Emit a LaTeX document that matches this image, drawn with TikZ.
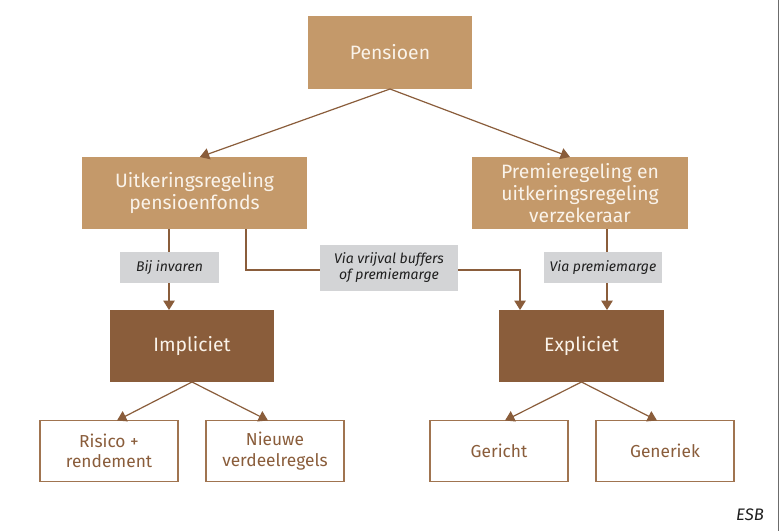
\documentclass[tikz,border=0pt]{standalone}
\usepackage{fontspec}
\setmainfont{Fira Sans}
\usetikzlibrary{arrows.meta,calc}
\definecolor{tan}{HTML}{C4996A}
\definecolor{brownd}{HTML}{8A5D3B}
\definecolor{lgray}{HTML}{D3D4D6}
\definecolor{boxtxt}{HTML}{FAF3EA}
\definecolor{edgeb}{HTML}{A07450}
\tikzset{
  base/.style={inner sep=0pt, outer sep=0pt, align=center, font=\fontsize{14.5}{16.5}\selectfont},
  tanbox/.style={base, fill=tan, text=boxtxt},
  darkbox/.style={base, fill=brownd, text=boxtxt, minimum width=123pt, minimum height=54pt},
  leafbox/.style={base, draw=edgeb, line width=0.9pt, fill=white, text=brownd, minimum width=103.5pt, minimum height=45.75pt, font=\fontsize{13}{15.5}\selectfont},
  lbl/.style={inner sep=0pt, outer sep=0pt, align=center, fill=lgray, text=black!88, font=\fontsize{10.5}{12}\selectfont\itshape, minimum height=23.25pt},
  arr/.style={draw=brownd, line width=0.9pt, -{Triangle[width=8.5pt,length=7pt]}},
}
\begin{document}
\begin{tikzpicture}[x=0.75pt,y=-0.75pt]
\useasboundingbox (0,0) rectangle (780,531);
\fill[white] (0,0) rectangle (780,531);
\draw[gray!85!black, line width=1.1pt] (778.5,0) -- (778.5,531);

\node[tanbox, minimum width=123pt, minimum height=54.75pt] (P) at (390,52.5) {Pensioen};
\node[tanbox, minimum width=168.75pt, minimum height=54pt] (U) at (194.5,193) {Uitkeringsregeling\\pensioenfonds};
\node[tanbox, minimum width=162pt, minimum height=54pt] (R) at (580,193) {Premieregeling en\\uitkeringsregeling\\verzekeraar};
\node[darkbox] (I) at (192,346) {Impliciet};
\node[darkbox, minimum width=123.75pt] (E) at (581.5,346) {Expliciet};

\node[leafbox] (L1) at (109,451) {Risico +\\rendement};
\node[leafbox] (L2) at (275,451) {Nieuwe\\verdeelregels};
\node[leafbox] (L3) at (499,451) {Gericht};
\node[leafbox] (L4) at (665,451) {Generiek};

% connectors
\draw[arr] (P.south) -- ([xshift=4pt]U.north);
\draw[arr] (P.south) -- ([xshift=-7.5pt]R.north);

\coordinate (a) at ([xshift=-19.1pt]U.south);
\coordinate (b) at ([xshift=38.6pt]U.south);
\coordinate (c) at ([xshift=-46.1pt]E.north);
\coordinate (d) at ([xshift=20.25pt]R.south);

\draw[arr] (a) -- (a |- I.north);
\draw[arr] (b) |- ($(c)+(0,-40)$) -- (c);
\draw[arr] (d) -- (d |- E.north);

\draw[arr] (I.south) -- ([xshift=6pt]L1.north);
\draw[arr] (I.south) -- ([xshift=-5.25pt]L2.north);
\draw[arr] (E.south) -- ([xshift=4.5pt]L3.north);
\draw[arr] (E.south) -- ([xshift=-6pt]L4.north);

% labels
\node[lbl, minimum width=74.25pt] (B1) at (169.5,267.5) {Bij invaren};
\node[lbl, minimum width=103.5pt, minimum height=34.5pt] (B2) at (389,268) {Via vrijval buffers\\of premiemarge};
\node[lbl, minimum width=88.5pt] (B3) at (603,267.5) {Via premiemarge};

\node[inner sep=0pt, font=\fontsize{12.5}{14}\selectfont\itshape, text=black!88] (esb) at (750,515) {ESB};
\end{tikzpicture}
\end{document}
